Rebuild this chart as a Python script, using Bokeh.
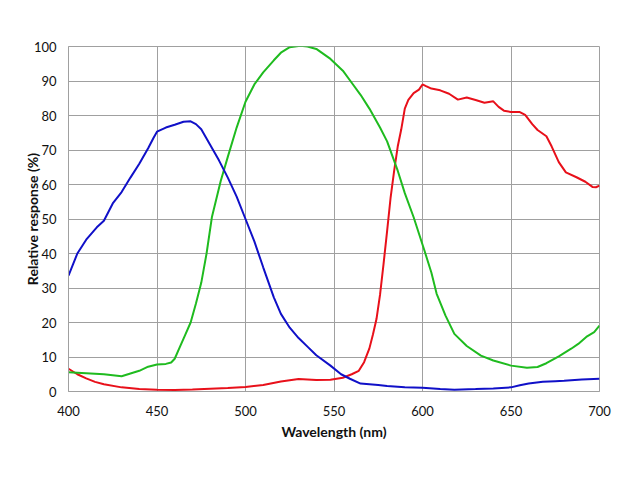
from bokeh.plotting import figure
from bokeh.models import Range1d, FixedTicker
from bokeh.embed import file_html
from bokeh.resources import INLINE

blue_wl = [400, 405, 410, 416, 420, 425, 430, 435, 440, 445, 448, 450, 455, 460, 465, 469, 472, 475, 480, 485, 490, 495, 500, 505, 510, 516, 520, 525, 530, 535, 540, 548, 554, 559, 565, 570, 575, 580, 590, 600, 610, 618, 630, 640, 650, 655, 660, 668, 675, 680, 690, 700]
blue_val = [33.6, 40, 44, 47.6, 49.5, 54.5, 57.8, 62, 66, 70.5, 73.5, 75.3, 76.5, 77.3, 78.2, 78.3, 77.5, 76, 71.5, 67, 62, 56.5, 50, 43.5, 36, 27.3, 22.5, 18.5, 15.5, 13, 10.5, 7.5, 5, 3.7, 2.3, 2.1, 1.9, 1.6, 1.2, 1.1, 0.7, 0.5, 0.7, 0.9, 1.2, 1.8, 2.3, 2.8, 3.0, 3.1, 3.5, 3.7]

green_wl = [400, 410, 420, 430, 440, 445, 450, 455, 458, 460, 463, 466, 469, 472, 475, 478, 481, 486, 490, 495, 500, 505, 510, 516, 520, 525, 531, 535, 540, 548, 555, 560, 565, 570, 576, 580, 586, 590, 595, 601, 605, 608, 613, 618, 625, 633, 640, 650, 659, 665, 670, 677, 684, 688, 693, 697, 700]
green_val = [5.6, 5.3, 5.0, 4.4, 6.0, 7.2, 7.8, 8.0, 8.4, 9.5, 13, 16.5, 20, 25.5, 31.5, 40, 50.5, 61, 68, 76.5, 84, 89, 92.5, 96, 98.2, 99.8, 100.2, 100, 99.3, 96.4, 93, 89.5, 86, 82, 76.5, 72.5, 64, 57.5, 50.5, 41, 34.5, 28.3, 22, 16.7, 13.2, 10.4, 9.0, 7.5, 6.9, 7.1, 8.2, 10.2, 12.4, 13.8, 16.0, 17.2, 19.1]

red_wl = [400, 405, 410, 415, 420, 430, 440, 450, 460, 470, 480, 490, 500, 510, 520, 530, 535, 540, 548, 555, 560, 564, 567, 570, 572, 574, 576, 578, 580, 582, 584, 586, 588, 590, 592, 595, 598, 600, 602, 605, 610, 615, 620, 625, 630, 635, 640, 643, 646, 650, 655, 658, 662, 665, 670, 673, 677, 681, 687, 692, 696, 698, 700]
red_val = [6.6, 5.0, 3.8, 2.8, 2.1, 1.2, 0.7, 0.5, 0.45, 0.6, 0.8, 1.0, 1.3, 1.9, 2.9, 3.6, 3.5, 3.3, 3.4, 4.0, 5.0, 6.0, 8.5, 12.5, 16.5, 21, 28, 37, 46.5, 56.3, 64, 71, 76, 82, 84.5, 86.5, 87.5, 89, 88.5, 87.8, 87.3, 86.3, 84.6, 85.2, 84.5, 83.7, 84.1, 82.5, 81.4, 81.0, 81.0, 80.2, 77.5, 75.8, 74, 71, 66.5, 63.5, 62.1, 60.8, 59.3, 59.2, 59.7]

x_ticks = [400, 450, 500, 550, 600, 650, 700]
y_ticks = [0, 10, 20, 30, 40, 50, 60, 70, 80, 90, 100]

FONT = "Lato"

p = figure(width=640, height=480, output_backend="svg", toolbar_location=None,
           x_range=Range1d(400, 700), y_range=Range1d(0, 100),
           min_border_left=68, min_border_right=41, min_border_top=46, min_border_bottom=89)
p.frame_width = 531
p.frame_height = 345

p.line(red_wl, red_val, line_color="#e8101a", line_width=2)
p.line(green_wl, green_val, line_color="#1fbb1f", line_width=2)
p.line(blue_wl, blue_val, line_color="#1010c8", line_width=2)

p.outline_line_color = "#a0a0a0"
p.outline_line_width = 1

for ax in (p.xaxis[0], p.yaxis[0]):
    ax.axis_line_color = "#a0a0a0"
    ax.major_tick_line_color = None
    ax.minor_tick_line_color = None
    ax.major_label_text_font = FONT
    ax.major_label_text_font_size = "13px"
    ax.major_label_text_color = "#111111"
    ax.axis_label_text_font = FONT
    ax.axis_label_text_font_size = "14px"
    ax.axis_label_text_font_style = "bold"
    ax.axis_label_text_color = "#111111"

p.xaxis.ticker = FixedTicker(ticks=x_ticks)
p.yaxis.ticker = FixedTicker(ticks=y_ticks)
p.xaxis.axis_label = "Wavelength (nm)"
p.yaxis.axis_label = "Relative response (%)"
p.xaxis.major_label_standoff = 8
p.yaxis.major_label_standoff = 6
p.xaxis.axis_label_standoff = 4
p.yaxis.axis_label_standoff = -10

p.xgrid.grid_line_color = "#a0a0a0"
p.ygrid.grid_line_color = "#a0a0a0"
p.xgrid.grid_line_width = 1
p.ygrid.grid_line_width = 1

open("out.html", "w").write(file_html(p, INLINE))
